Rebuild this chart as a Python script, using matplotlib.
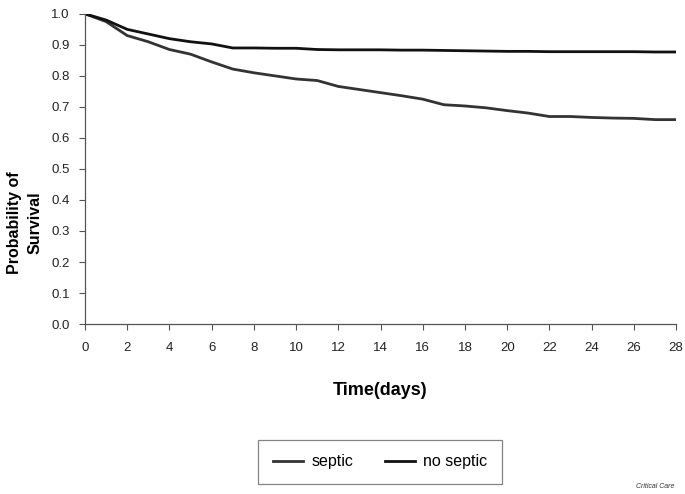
import matplotlib
matplotlib.use('Agg')
import matplotlib.pyplot as plt
import numpy as np

plt.rcParams['font.family'] = ['Liberation Sans', 'DejaVu Sans']

# survival curves
days = [0, 1, 2, 3, 4, 5, 6, 7, 8, 9, 10, 11, 12, 13, 14, 15, 16, 17, 18, 19, 20,
        21, 22, 23, 24, 25, 26, 27, 28]
septic = [1.0, 0.975, 0.93, 0.91, 0.885, 0.87, 0.845, 0.822, 0.81, 0.80, 0.79, 0.785,
          0.766, 0.756, 0.746, 0.736, 0.725, 0.707, 0.703, 0.697, 0.688, 0.68, 0.669,
          0.669, 0.666, 0.664, 0.663, 0.659, 0.659]
no_septic = [1.0, 0.98, 0.95, 0.935, 0.92, 0.91, 0.903, 0.89, 0.89, 0.889, 0.889, 0.885,
             0.884, 0.884, 0.884, 0.883, 0.883, 0.882, 0.881, 0.88, 0.879, 0.879, 0.878,
             0.878, 0.878, 0.878, 0.878, 0.877, 0.877]

fig = plt.figure(figsize=(6.85, 4.94), dpi=100)
ax = fig.add_axes([0.124, 0.344, 0.863, 0.628])

l1, = ax.plot(days, septic, color='#333333', lw=2, label='septic')
l2, = ax.plot(days, no_septic, color='#111111', lw=2, label='no septic')

ax.set_xlim(0, 28)
ax.set_ylim(0, 1.0)
ax.set_xticks(np.arange(0, 29, 2))
ax.set_yticks(np.arange(0, 1.01, 0.1))
ax.set_yticklabels([f'{v:.1f}' for v in np.arange(0, 1.01, 0.1)])

for s in ['top', 'right']:
    ax.spines[s].set_visible(False)
for s in ['left', 'bottom']:
    ax.spines[s].set_color('#555555')
    ax.spines[s].set_linewidth(0.9)
ax.tick_params(colors='#555555', labelcolor='#222222', labelsize=9.5, length=4, width=0.8)
ax.tick_params(axis='x', pad=9)
ax.tick_params(axis='y', pad=7)

ax.set_xlabel('Time(days)', fontsize=13, fontweight='bold', labelpad=20)
fig.text(0.036, 0.55, 'Probability of\nSurvival', rotation=90, fontsize=11.5,
         fontweight='bold', ha='center', va='center', linespacing=1.4)

leg = fig.legend(handles=[l1, l2], loc='center', bbox_to_anchor=(0.555, 0.065),
                 ncol=2, frameon=True, fancybox=False, fontsize=11.5,
                 handlelength=1.9, columnspacing=2.0, borderpad=0.9, handletextpad=0.5)
leg.get_frame().set_edgecolor('#666666')
leg.get_frame().set_linewidth(0.9)

fig.text(0.985, 0.012, 'Critical Care', fontsize=5, style='italic', ha='right', color='#333333')

fig.savefig('out.png', dpi=100)
